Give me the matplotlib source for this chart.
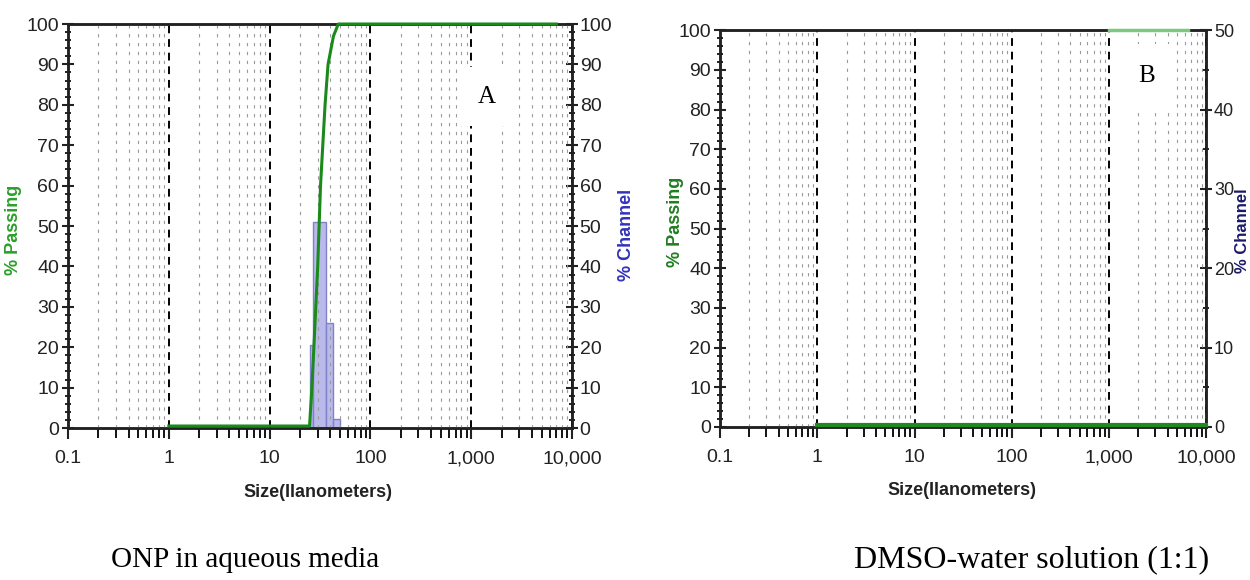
import matplotlib
matplotlib.use("Agg")
import matplotlib.pyplot as plt
from matplotlib.ticker import FixedLocator, MultipleLocator, NullFormatter
import numpy as np

# panel A: ONP in aqueous media
a_size = [1, 24.9, 26, 27.5, 30, 32, 35.5, 38, 43, 48, 7000]
a_pass = [0.5, 0.5, 8, 20, 40, 60, 80, 90, 97, 100, 100]
a_edges = [24.9, 27.0, 36.3, 42.7, 50.1]
a_chan = [20.5, 51, 26, 2.2]

# panel B: DMSO-water solution (1:1)
b_size_low = [1, 10000]
b_pass_low = [0.5, 0.5]
b_size_top = [1000, 6500]
b_pass_top = [100, 100]

x_ticks = [0.1, 1, 10, 100, 1000, 10000]
x_labels = ['0.1', '1', '10', '100', '1,000', '10,000']

plt.rcParams['font.family'] = ['Liberation Sans', 'DejaVu Sans']

fig = plt.figure(figsize=(12.5, 5.8), dpi=100)


def setup(ax, axr, rmax, rminor, rsize):
    ax.set_xscale('log')
    ax.set_xlim(0.1, 10000)
    ax.set_ylim(0, 100)
    axr.set_ylim(0, rmax)
    ax.set_xticks(x_ticks)
    ax.set_xticklabels(x_labels)
    minors = [m * 10.0 ** e for e in range(-1, 4) for m in range(2, 10)]
    ax.xaxis.set_minor_locator(FixedLocator(minors))
    ax.xaxis.set_minor_formatter(NullFormatter())
    ax.yaxis.set_major_locator(MultipleLocator(10))
    ax.yaxis.set_minor_locator(MultipleLocator(2))
    axr.yaxis.set_major_locator(MultipleLocator(10))
    axr.yaxis.set_minor_locator(MultipleLocator(rminor))
    ax.tick_params(axis='x', which='major', direction='out', length=8, width=1.5,
                   labelsize=14, colors='#222222', pad=8)
    ax.tick_params(axis='x', which='minor', direction='out', length=7, width=1.3)
    ax.tick_params(axis='y', which='major', direction='inout', length=9, width=1.5,
                   labelsize=14, colors='#222222', pad=2)
    ax.tick_params(axis='y', which='minor', direction='inout', length=4, width=1.2)
    axr.tick_params(axis='y', which='major', direction='inout', length=9, width=1.5,
                    labelsize=rsize, colors='#222222', pad=1)
    axr.tick_params(axis='y', which='minor', direction='inout', length=4, width=1.2)
    for a in (ax, axr):
        for s in a.spines.values():
            s.set_linewidth(1.8)
            s.set_color('#222222')
    # vertical grid
    ax.grid(True, axis='x', which='major', color='black', linestyle=(0, (4, 3)), lw=1.4)
    ax.grid(True, axis='x', which='minor', color='#9a9a9a', linestyle=(0, (3, 5)), lw=0.8)
    ax.set_zorder(axr.get_zorder() + 1)
    ax.patch.set_visible(False)


# ---------- panel A ----------
axA = fig.add_axes([0.0544, 0.262, 0.4032, 0.6966])
axAr = axA.twinx()
setup(axA, axAr, 100, 2, 14)
axA.grid(True, axis='y', which='major', color='#3535c8', linestyle=(0, (1, 2.6)), lw=2.2)
for gl in axA.get_ygridlines():
    if gl.get_ydata()[0] in (0, 100):
        gl.set_visible(False)

widths = np.diff(a_edges)
axAr.bar(a_edges[:-1], a_chan, width=widths, align='edge',
         color='#b9b9ea', edgecolor='#8080cc', linewidth=1.0)
axA.plot(a_size, a_pass, color='#1a8a1a', lw=2.2, zorder=4, clip_on=False)

axA.text(0.831, 0.82, 'A', transform=axA.transAxes, family='Liberation Serif',
         fontsize=18, ha='center', va='center', zorder=5,
         bbox=dict(boxstyle='square,pad=0.75', facecolor='white', edgecolor='none'))

axA.set_xlabel('Size(Ilanometers)', fontsize=13, fontweight='bold', color='#222222')
axA.xaxis.set_label_coords(0.496, -0.139)
axA.set_ylabel('% Passing', fontsize=13, fontweight='bold', color='#2aa02a')
axA.yaxis.set_label_coords(-0.091, 0.49)
axAr.set_ylabel('% Channel', fontsize=13, fontweight='bold', color='#3333bb', rotation=90)
axAr.yaxis.set_label_coords(1.091, 0.478)

# ---------- panel B ----------
axB = fig.add_axes([0.576, 0.2638, 0.389, 0.684])
axBr = axB.twinx()
setup(axB, axBr, 50, 5, 13)
axB.grid(True, axis='y', which='major', linestyle=(0, (4, 3)), lw=1.3)
for gl in axB.get_ygridlines():
    v = gl.get_ydata()[0]
    if v in (0, 100):
        gl.set_visible(False)
    elif int(round(v)) % 20 == 0:
        gl.set_color('#20206e')
    else:
        gl.set_color('#2a8a2a')

axB.plot(b_size_low, b_pass_low, color='#1f8a1f', lw=3, zorder=4, clip_on=False)
axB.plot(b_size_top, b_pass_top, color='#7cc87c', lw=2.5, zorder=4, clip_on=False)

axB.text(0.877, 0.885, 'B', transform=axB.transAxes, family='Liberation Serif',
         fontsize=18, ha='center', va='center', zorder=5,
         bbox=dict(boxstyle='square,pad=0.85', facecolor='white', edgecolor='none'))

axB.set_xlabel('Size(Ilanometers)', fontsize=13, fontweight='bold', color='#222222')
axB.xaxis.set_label_coords(0.497, -0.139)
axB.set_ylabel('% Passing', fontsize=13, fontweight='bold', color='#1f7f1f')
axB.yaxis.set_label_coords(-0.074, 0.516)
axBr.set_ylabel('% Channel', fontsize=12, fontweight='bold', color='#1a1a6a', rotation=90)
axBr.yaxis.set_label_coords(1.0585, 0.496)

# captions
fig.text(245 / 1250, 1 - 560 / 580, 'ONP in aqueous media', family='Liberation Serif',
         fontsize=21, ha='center', va='center')
fig.text(1032 / 1250, 1 - 560 / 580, 'DMSO-water solution (1:1)', family='Liberation Serif',
         fontsize=23, ha='center', va='center')

fig.savefig('out.png', dpi=100)
